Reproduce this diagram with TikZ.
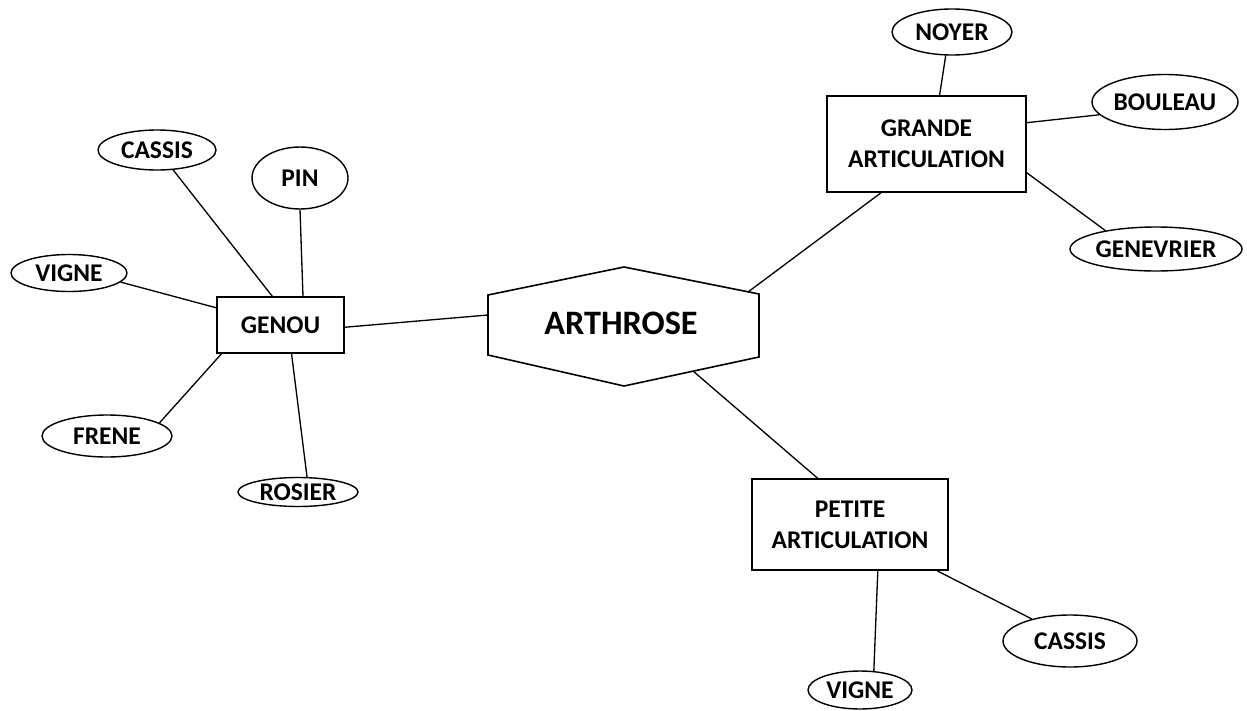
\documentclass[tikz,border=0pt]{standalone}
\usepackage{fontspec}
\setmainfont{Carlito}
\usetikzlibrary{shapes.geometric}

\begin{document}
\begin{tikzpicture}[
x=0.02cm,y=-0.02cm,
topic/.style={draw,ellipse,inner sep=0pt,line width=0.8pt,font=\bfseries\fontsize{14.5}{17.5}\selectfont},
group/.style={draw,rectangle,inner sep=0pt,align=center,line width=0.9pt,font=\bfseries\fontsize{14.5}{17.5}\selectfont},
link/.style={line width=0.75pt}
]
\useasboundingbox (0,0) rectangle (1247,710);
% centre
\coordinate (hexW) at (488,295);
\coordinate (hexN) at (624,267);
\coordinate (hexE) at (759,294);
\coordinate (hexSE) at (759,357);
\coordinate (hexS) at (624,386);
\coordinate (hexSW) at (488,355);
\draw[line width=0.9pt] (hexW) -- (hexN) -- (hexE) -- (hexSE) -- (hexS) -- (hexSW) -- cycle;
\node[font=\bfseries\fontsize{19.5}{23}\selectfont] (arthrose) at (621,323) {ARTHROSE};
\coordinate (toGenou) at (488,315);
\coordinate (toGrande) at (748,292);
\coordinate (toPetite) at (693,371);

% groupes
\node[group,minimum width=2.54cm,minimum height=1.12cm] (genou) at (280.5,325) {GENOU};
\node[group,minimum width=3.98cm,minimum height=1.92cm] (grande) at (926.5,144) {GRANDE\\ARTICULATION};
\node[group,minimum width=3.92cm,minimum height=1.82cm] (petite) at (850,524.5) {PETITE\\ARTICULATION};

% genou
\node[topic,minimum width=2.36cm,minimum height=0.80cm] (cassisG) at (157,150) {CASSIS};
\node[topic,minimum width=1.92cm,minimum height=1.24cm] (pin) at (300,178) {PIN};
\node[topic,minimum width=2.32cm,minimum height=0.74cm] (vigneG) at (69,273) {VIGNE};
\node[topic,minimum width=2.60cm,minimum height=0.84cm] (frene) at (107,436) {FRENE};
\node[topic,minimum width=2.40cm,minimum height=0.58cm] (rosier) at (298,492) {ROSIER};

% grande articulation
\node[topic,minimum width=2.40cm,minimum height=0.92cm] (noyer) at (952,32) {NOYER};
\node[topic,minimum width=2.92cm,minimum height=1.10cm] (bouleau) at (1165,102) {BOULEAU};
\node[topic,minimum width=3.44cm,minimum height=0.88cm] (genevrier) at (1156,249) {GENEVRIER};

% petite articulation
\node[topic,minimum width=2.68cm,minimum height=1.04cm] (cassisP) at (1070,641) {CASSIS};
\node[topic,minimum width=2.08cm,minimum height=0.76cm] (vigneP) at (860,690) {VIGNE};

\draw[link] (genou.-2) -- (toGenou);
\draw[link] (toGrande) -- (grande.-133);
\draw[link] (toPetite) -- (petite.125);

\draw[link] (cassisG.-51) -- (genou.106);
\draw[link] (pin.south) -- (genou.52);
\draw[link] (vigneG.-10) -- (genou.165);
\draw[link] (frene.14) -- (genou.206);
\draw[link] (rosier.59) -- (genou.-69);

\draw[link] (noyer.-105) -- (grande.75);
\draw[link] (bouleau.191) -- (grande.12);
\draw[link] (genevrier.160) -- (grande.-16);

\draw[link] (petite.-59) -- (vigneP.54);
\draw[link] (petite.-28) -- (cassisP.150);
\end{tikzpicture}
\end{document}
